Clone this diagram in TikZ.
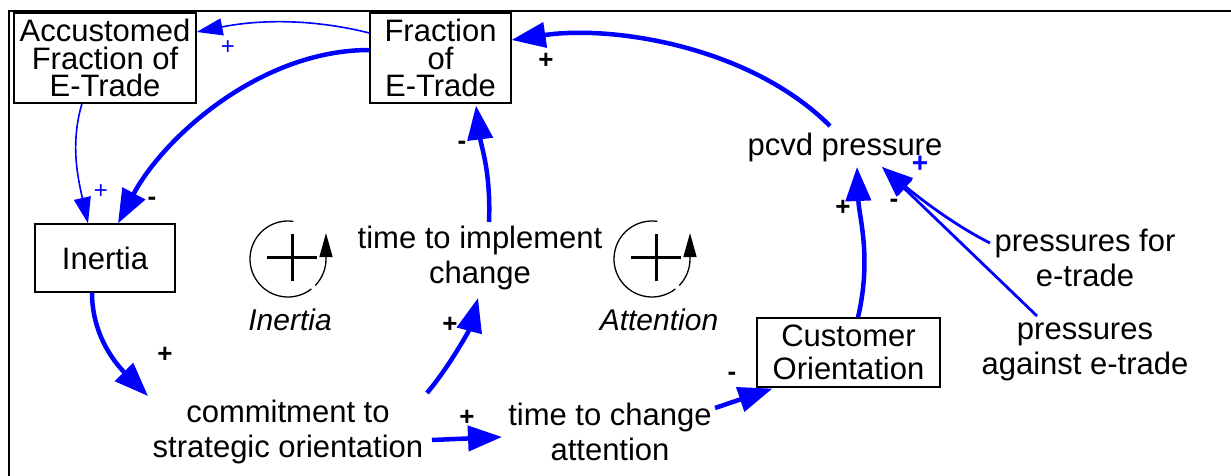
\documentclass[tikz,border=0pt]{standalone}
\usepackage{fontspec}
\setmainfont{Liberation Sans}
\usetikzlibrary{arrows.meta,calc}
\definecolor{linkblue}{RGB}{0,0,255}
\tikzset{
  box/.style={draw, line width=1.2pt, inner sep=0pt, align=center, font=\fontsize{31}{27.5}\selectfont},
  txt/.style={align=center, inner sep=0pt, font=\fontsize{31}{35}\selectfont},
  tarr/.style={draw=linkblue, line width=4.5pt, -{Triangle[length=34pt,width=25pt]}},
  narr/.style={draw=linkblue, line width=1.6pt, -{Triangle[length=26pt,width=17pt]}},
  marr/.style={draw=linkblue, line width=2.8pt, -{Triangle[length=31pt,width=22pt]}},
  pol/.style={inner sep=0pt, font=\fontsize{26}{26}\selectfont\bfseries},
  bpol/.style={inner sep=0pt, text=linkblue, font=\fontsize{24}{24}\selectfont},
  looplbl/.style={inner sep=0pt, font=\fontsize{30}{30}\selectfont\itshape},
  loopline/.style={line width=1.3pt},
}
\begin{document}
\begin{tikzpicture}[x=1pt,y=-1pt]
\useasboundingbox (0,0) rectangle (1231,476);
% frame
\draw[line width=2.5pt] (9,476) -- (9,11) -- (1231,11);

% boxes
\node[box, minimum width=182, minimum height=90] (acc) at (105,58) {Accustomed\\Fraction of\\E-Trade};
\node[box, minimum width=141, minimum height=90] (fr) at (440.5,58) {Fraction\\of\\E-Trade};
\node[box, minimum width=140, minimum height=68, font=\fontsize{31}{35}\selectfont] (in) at (105,258) {Inertia};
\node[box, minimum width=183, minimum height=69, font=\fontsize{31}{33}\selectfont] (cust) at (848.5,352.5) {Customer\\Orientation};

% text variables
\node[txt] (tic) at (480,258) {time to implement\\change};
\node[txt] (pcvd) at (845,147) {pcvd pressure};
\node[txt] (pfe) at (1085,258) {pressures for\\e-trade};
\node[txt] (pae) at (1085,352) {pressures\\against e-trade};
\node[txt] (com) at (288,432) {commitment to\\strategic orientation};
\node[txt] (ttc) at (610,432) {time to change\\attention};

% loop symbols
\foreach \cx in {288, 652}{
  \begin{scope}[shift={(\cx,259)}, yscale=-1]
    \draw[loopline] (82:38) arc[start angle=82, end angle=308, radius=38];
    \draw[loopline, -{Triangle[length=24pt,width=13pt]}] (-44:38) arc[start angle=-44, end angle=0, radius=38] -- ++(0,26);
    \draw[line width=3pt] (-21,2) -- (29,2) (4,-22) -- (4,25);
  \end{scope}
}
\node[looplbl] (linl) at (290,320) {Inertia};
\node[looplbl] (latl) at (659,320) {Attention};

% connectors
\draw[narr] ([shift={(0,-25)}]fr.west) .. controls +(-60,-15) and +(60,-12) .. ([shift={(0,-26)}]acc.east);
\draw[tarr] ([shift={(0,-8)}]fr.west) .. controls +(-110,0) and +(45,-85) .. ([shift={(13,0)}]in.north);
\draw[narr] ([shift={(-23,0)}]acc.south) .. controls +(-12,40) and +(-10,-45) .. ([shift={(-17,0)}]in.north);
\draw[tarr] ([shift={(-13,0)}]in.south) .. controls +(0,45) and +(-30,-30) .. ([shift={(-140,-36)}]com.center);
\draw[tarr] ([shift={(139,-39)}]com.center) .. controls +(25,-30) and +(-8,30) .. ([shift={(-2,40)}]tic.center);
\draw[tarr] ([shift={(9,-36)}]tic.center) .. controls +(2,-50) and +(5,40) .. ([shift={(35.5,2)}]fr.south);
\draw[tarr] ([shift={(144,8)}]com.center) -- ([shift={(-108,5)}]ttc.center);
\draw[tarr] ([shift={(105,-24)}]ttc.center) -- ([shift={(16,1)}]cust.south west);
\draw[tarr] ([shift={(9.5,0)}]cust.north) .. controls +(14,-60) and +(2,50) .. ([shift={(12,20)}]pcvd.center);
\draw[tarr] ([shift={(-15,-21)}]pcvd.center) .. controls +(-80,-80) and +(100,-15) .. ([shift={(0,-18)}]fr.east);
\draw[marr] ([shift={(-95,-15)}]pfe.center) .. controls +(-40,-20) and +(30,25) .. ([shift={(37,20)}]pcvd.center);
\draw[marr] ([shift={(-48,-36)}]pae.center) -- ([shift={(37,20)}]pcvd.center);

% polarities
\node[bpol] (p1) at (228,48) {+};
\node[pol] (p2) at (152,201) {-};
\node[bpol] (p3) at (101,192) {+};
\node[pol] (p4) at (165,355) {+};
\node[pol] (p5) at (450,325) {+};
\node[pol] (p6) at (462,145) {-};
\node[pol] (p7) at (467,418) {+};
\node[pol] (p8) at (732,376) {-};
\node[pol] (p9) at (843,208) {+};
\node[pol] (p10) at (546,61) {+};
\node[bpol, font=\fontsize{28}{28}\selectfont\bfseries] (p11) at (920,164) {+};
\node[pol] (p12) at (894,203) {-};
\end{tikzpicture}
\end{document}
